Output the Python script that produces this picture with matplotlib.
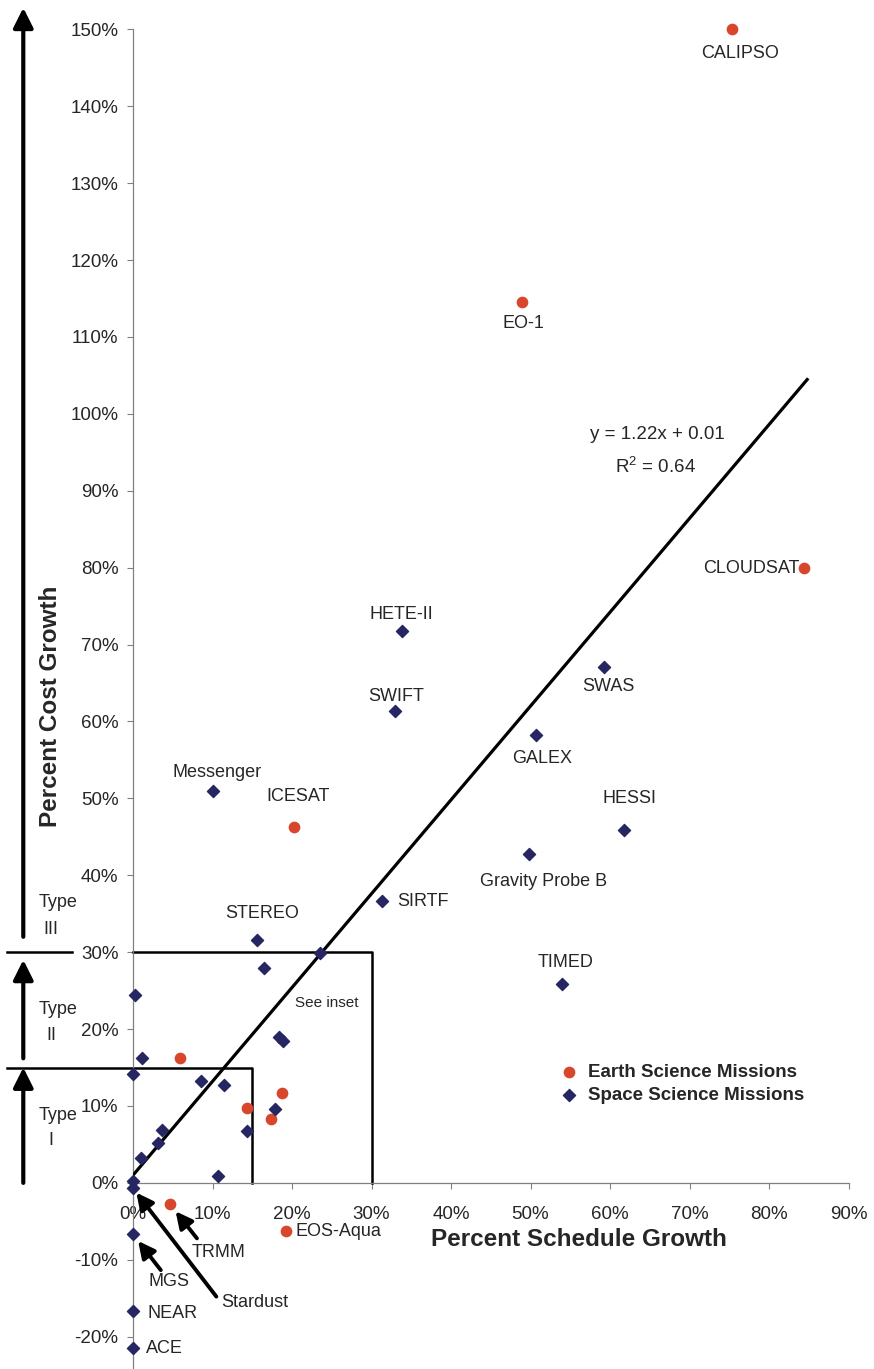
import numpy as np
import matplotlib
matplotlib.use('Agg')
import matplotlib.pyplot as plt
from matplotlib.ticker import PercentFormatter

plt.rcParams['font.family'] = ['Liberation Sans', 'DejaVu Sans']
plt.rcParams['mathtext.fontset'] = 'custom'
plt.rcParams['mathtext.rm'] = 'Liberation Sans'
plt.rcParams['axes.unicode_minus'] = False

# Earth science missions: percent schedule growth (x), percent cost growth (y)
earth_names = ['CALIPSO', 'EO-1', 'CLOUDSAT', 'ICESAT', 'TRMM', 'EOS-Aqua',
               '', '', '', '']
earth_x = [75.3, 48.9, 84.4, 20.3, 4.6, 19.2, 5.9, 14.3, 18.8, 17.3]
earth_y = [150.0, 114.5, 79.9, 46.3, -2.7, -6.3, 16.3, 9.7, 11.7, 8.3]

# Space science missions
space_names = ['HETE-II', 'SWIFT', 'Messenger', 'SWAS', 'GALEX', 'HESSI',
               'Gravity Probe B', 'SIRTF', 'TIMED', 'STEREO', 'Stardust',
               'MGS', 'NEAR', 'ACE',
               '', '', '', '', '', '', '', '', '', '', '', '', '', '', '', '']
space_x = [33.8, 32.9, 10.0, 59.2, 50.7, 61.8, 49.8, 31.3, 53.9, 15.6, 0.0,
           0.0, 0.0, 0.0,
           16.5, 23.5, 0.25, 18.4, 18.9, 1.1, 0.0, 8.5, 11.4, 17.9, 3.7,
           14.3, 3.1, 1.0, 10.7, 0.0]
space_y = [71.8, 61.3, 51.0, 67.1, 58.2, 45.9, 42.7, 36.6, 25.9, 31.6, -0.7,
           -6.7, -16.7, -21.5,
           27.9, 29.9, 24.4, 19.0, 18.5, 16.2, 14.1, 13.3, 12.7, 9.6, 6.9,
           6.8, 5.2, 3.3, 0.9, 0.2]

# linear trend shown on the chart
slope, intercept = 1.22, 0.01
trend_end = 84.8
x_ticks = np.arange(0, 91, 10)
y_ticks = np.arange(-20, 151, 10)

# label placement: (dx, dy) in points, horizontal alignment
label_pos = {
    'CALIPSO': (6, -17.5, 'center'), 'EO-1': (1.5, -15, 'center'),
    'CLOUDSAT': (-3, 0, 'right'), 'ICESAT': (2.7, 21.8, 'center'),
    'TRMM': (35, -35, 'center'), 'EOS-Aqua': (7, 0, 'left'),
    'HETE-II': (0, 12, 'center'), 'SWIFT': (1.2, 11, 'center'),
    'Messenger': (3.2, 13.2, 'center'), 'SWAS': (3.6, -14.4, 'center'),
    'GALEX': (4.6, -17, 'center'), 'HESSI': (3.6, 22.3, 'center'),
    'Gravity Probe B': (10.3, -19.4, 'center'), 'SIRTF': (11, 0, 'left'),
    'TIMED': (2.9, 15.1, 'center'), 'STEREO': (4, 18.9, 'center'),
    'Stardust': (88, -82, 'center'), 'MGS': (26, -33.6, 'center'),
    'NEAR': (10.5, -1.4, 'left'), 'ACE': (9.4, 0, 'left'),
}
# pointer arrows: tail offset (points) and gap at the tip
pointer = {'MGS': (20, -25.7, 6), 'TRMM': (19.7, -25, 7),
           'Stardust': (60, -78, 4)}

red = '#d8472b'
navy = '#262662'
txt = '#262626'

fig = plt.figure(figsize=(8.74, 13.69), dpi=100)
ax = fig.add_axes([133 / 874, 0, 715.5 / 874, 1339.7 / 1369])

ax.scatter(earth_x, earth_y, s=55, marker='o', color=red, zorder=4,
           clip_on=False, label='Earth Science Missions')
ax.scatter(space_x, space_y, s=38, marker='D', color=navy, zorder=4,
           clip_on=False, label='Space Science Missions')

tx = np.array([0, trend_end])
ax.plot(tx, slope * tx + intercept * 100, color='black', lw=2.3, zorder=3)
ax.text(65.9, 97.3, 'y = 1.22x + 0.01', ha='center', va='center',
        fontsize=13.5, color=txt)
ax.text(65.7, 93.1, 'R$^2$ = 0.64', ha='center', va='center',
        fontsize=13.5, color=txt)

for names, xs, ys in [(earth_names, earth_x, earth_y),
                      (space_names, space_x, space_y)]:
    for n, x, y in zip(names, xs, ys):
        if not n:
            continue
        dx, dy, ha = label_pos[n]
        ax.annotate(n, (x, y), xytext=(dx, dy), textcoords='offset points',
                    ha=ha, va='center', fontsize=13, color=txt,
                    annotation_clip=False)
        if n in pointer:
            px, py, gap = pointer[n]
            ax.annotate('', (x, y), xytext=(px, py),
                        textcoords='offset points', annotation_clip=False,
                        arrowprops=dict(arrowstyle='-|>,head_length=1.0,head_width=0.5',
                                        lw=2.8, color='black', shrinkA=0,
                                        shrinkB=gap, mutation_scale=10))

# inset boxes and type bands
box = dict(color='black', lw=1.8, clip_on=False, zorder=2)
ax.plot([-15.9, 15, 15], [15, 15, 0], **box)
ax.plot([0, 30, 30], [30, 30, 0], **box)
ax.plot([-15.9, -7.7], [30, 30], **box)
ax.text(24.4, 23.4, 'See inset', ha='center', va='center', fontsize=11,
        color=txt)

type_x = -13.8
for y0, y1 in [(0, 15), (16.2, 29), (32, 152.8)]:
    ax.annotate('', (type_x, y1), xytext=(type_x, y0),
                annotation_clip=False,
                arrowprops=dict(arrowstyle='-|>,head_length=1.2,head_width=0.6',
                                lw=3, color='black', shrinkA=0, shrinkB=0,
                                mutation_scale=10))
for word, num, yw, yn in [('Type', 'I', 8.8, 5.5), ('Type', 'II', 22.6, 19.2),
                          ('Type', 'III', 36.4, 33.0)]:
    ax.text(-9.4, yw, word, ha='center', va='center', fontsize=13, color=txt)
    ax.text(-10.3, yn, num, ha='center', va='center', fontsize=13, color=txt)

ax.set_xlim(0, 90)
ax.set_ylim(-24.2, 150)
ax.set_xticks(x_ticks)
ax.set_yticks(y_ticks)
ax.xaxis.set_major_formatter(PercentFormatter(100, decimals=0))
ax.yaxis.set_major_formatter(PercentFormatter(100, decimals=0))
ax.spines['top'].set_visible(False)
ax.spines['right'].set_visible(False)
ax.spines['bottom'].set_position(('data', 0))
for s in ['left', 'bottom']:
    ax.spines[s].set_color('#808080')
    ax.spines[s].set_linewidth(0.9)
ax.tick_params(axis='x', direction='out', length=4, pad=13, labelsize=13.5,
               colors='#808080', labelcolor=txt)
ax.tick_params(axis='y', direction='out', length=4, pad=6.5, labelsize=13.5,
               colors='#808080', labelcolor=txt)

ax.text(0.623, 0.0963, 'Percent Schedule Growth', transform=ax.transAxes,
        ha='center', va='center', fontsize=17.5, fontweight='bold', color=txt)
ax.text(-0.116, 0.495, 'Percent Cost Growth', transform=ax.transAxes,
        rotation=90, ha='center', va='center', fontsize=17.5,
        fontweight='bold', color=txt)

ax.legend(loc='center left', bbox_to_anchor=(0.583, 0.2127), frameon=False,
          prop={'weight': 'bold', 'size': 13.5}, handlelength=1.0,
          handletextpad=0.5, borderpad=0, labelspacing=0.3,
          labelcolor=txt, scatterpoints=1)

fig.savefig('out.png', dpi=100)
